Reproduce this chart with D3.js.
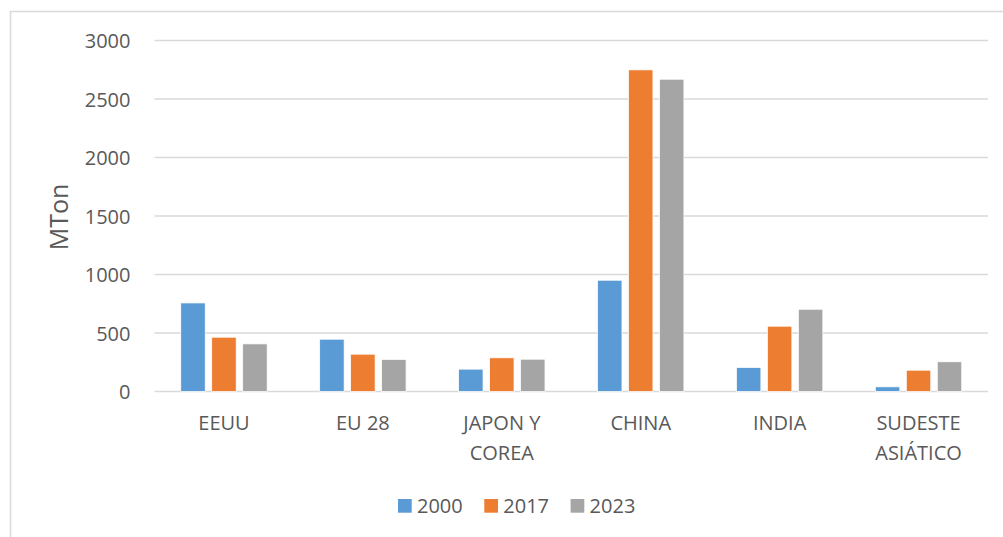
<!DOCTYPE html>
<html>
<head>
<meta charset="utf-8">
<script src="https://cdn.jsdelivr.net/npm/d3@7"></script>
<style>
  html, body { margin: 0; padding: 0; background: #fff; }
  svg { display: block; font-family: "Open Sans", "Segoe UI", sans-serif; }
</style>
</head>
<body>
<svg id="chart" width="1003" height="537"></svg>
<script>
const categories = ["EEUU", "EU 28", "JAPON Y COREA", "CHINA", "INDIA", "SUDESTE ASIÁTICO"];
const seriesNames = ["2000", "2017", "2023"];
const values2000 = [757, 447, 191, 951, 205, 40];
const values2017 = [464, 319, 288, 2749, 558, 182];
const values2023 = [407, 274, 276, 2669, 703, 254];
const yTicks = [0, 500, 1000, 1500, 2000, 2500, 3000];
const colors = ["#5B9BD5", "#ED7D31", "#A5A5A5"];
const yLabel = "MTon";

const seriesValues = [values2000, values2017, values2023];
const svg = d3.select("#chart");
const textColor = "#595959";

const plot = { left: 154.5, right: 988, top: 40.5, bottom: 391.5 };

// outer border (top + left only visible)
svg.append("path")
  .attr("d", `M10.5,537 L10.5,11.5 L1003,11.5`)
  .attr("fill", "none").attr("stroke", "#d9d9d9").attr("stroke-width", 1.5);

const x = d3.scaleBand().domain(categories).range([plot.left, plot.right]).paddingInner(0.378).paddingOuter(0.189);
const xs = d3.scaleBand().domain(seriesNames).range([0, x.bandwidth()]).paddingInner(0.21).paddingOuter(0);
const y = d3.scaleLinear().domain([0, 3000]).range([plot.bottom, plot.top]);

// gridlines
svg.append("g").selectAll("line").data(yTicks).join("line")
  .attr("x1", plot.left).attr("x2", plot.right)
  .attr("y1", d => y(d)).attr("y2", d => y(d))
  .attr("stroke", "#d9d9d9").attr("stroke-width", 1.5);

// y axis labels via d3 axis
const yAxis = svg.append("g").attr("transform", `translate(${plot.left - 24},0)`)
  .call(d3.axisLeft(y).tickValues(yTicks).tickFormat(d3.format("d")).tickSize(0).tickPadding(0));
yAxis.select(".domain").remove();
yAxis.selectAll("text").attr("font-size", 20).attr("fill", textColor)
  .attr("font-family", "'Open Sans', sans-serif").attr("dy", "0.35em");

// bars
const groups = svg.append("g").selectAll("g").data(categories).join("g")
  .attr("transform", d => `translate(${x(d)},0)`);
groups.selectAll("rect").data((d, i) => seriesNames.map((s, j) => ({ s, j, v: seriesValues[j][i] })))
  .join("rect")
  .attr("x", d => xs(d.s))
  .attr("width", xs.bandwidth())
  .attr("y", d => y(d.v))
  .attr("height", d => y(0) - y(d.v))
  .attr("fill", d => colors[d.j])
  .attr("stroke", "#fff").attr("stroke-width", 0.75);

// x axis labels
const xAxis = svg.append("g").attr("transform", `translate(0,${plot.bottom})`)
  .call(d3.axisBottom(x).tickSize(0).tickPadding(0));
xAxis.select(".domain").remove();
xAxis.selectAll("text").attr("font-size", 20).attr("fill", textColor)
  .attr("font-family", "'Open Sans', sans-serif")
  .attr("dy", null).attr("y", 0)
  .each(function (d) {
    const t = d3.select(this);
    const words = d.split(" ");
    const lines = [];
    let cur = [];
    const maxW = 100;
    const tmp = t.text("");
    words.forEach(w => {
      const trial = cur.concat([w]).join(" ");
      tmp.text(trial);
      if (this.getComputedTextLength() > maxW && cur.length) {
        lines.push(cur.join(" "));
        cur = [w];
      } else cur.push(w);
    });
    lines.push(cur.join(" "));
    t.text("");
    lines.forEach((ln, i) => {
      t.append("tspan").attr("x", 0).attr("y", 38.5 + i * 30).text(ln);
    });
  });

// y label
svg.append("text")
  .attr("transform", `translate(68,217) rotate(-90)`)
  .attr("text-anchor", "middle")
  .attr("font-size", 25).attr("fill", textColor)
  .text(yLabel);

// legend
const legend = svg.append("g").attr("transform", "translate(398,499)");
const items = legend.selectAll("g").data(seriesNames).join("g")
  .attr("transform", (d, i) => `translate(${i * 86.3},0)`);
items.append("rect").attr("width", 13.7).attr("height", 13.7).attr("fill", (d, i) => colors[i]);
items.append("text").attr("x", 19).attr("y", 6.85).attr("dy", "0.35em")
  .attr("font-size", 20).attr("fill", textColor).text(d => d);
</script>
</body>
</html>
